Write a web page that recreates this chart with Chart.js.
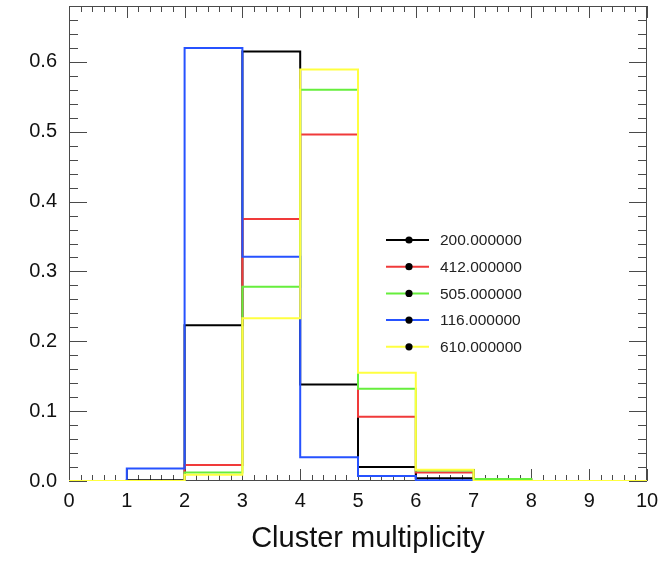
<!DOCTYPE html>
<html>
<head>
<meta charset="utf-8">
<script src="https://cdn.jsdelivr.net/npm/chart.js@4"></script>
<style>
  html, body { margin: 0; padding: 0; background: #ffffff; }
  #wrap { width: 666px; height: 562px; }
</style>
</head>
<body>
<div id="wrap"><canvas id="chart" width="666" height="562"></canvas></div>
<script>
// Bin lower edges of the cluster multiplicity histogram (unit-wide bins, 0..10)
const binEdges = [0, 1, 2, 3, 4, 5, 6, 7, 8, 9];
const xUpper = 10;

// Normalised fractions per bin for each run
const series200 = [0, 0.001, 0.223, 0.615, 0.138, 0.020, 0.004, 0, 0, 0];
const series412 = [0, 0, 0.023, 0.375, 0.496, 0.092, 0.012, 0.002, 0, 0];
const series505 = [0, 0, 0.012, 0.278, 0.560, 0.132, 0.015, 0.003, 0, 0];
const series116 = [0, 0.018, 0.620, 0.321, 0.034, 0.007, 0.001, 0, 0, 0];
const series610 = [0, 0, 0.009, 0.233, 0.589, 0.155, 0.016, 0, 0, 0];

const seriesNames = ['200.000000', '412.000000', '505.000000', '116.000000', '610.000000'];
const seriesColors = ['#000000', '#f03a3a', '#66ee3c', '#2652ff', '#ffff40'];

// Axis tick labels
const xTickValues = [0, 1, 2, 3, 4, 5, 6, 7, 8, 9, 10];
const yTickValues = [0.0, 0.1, 0.2, 0.3, 0.4, 0.5, 0.6];
const yMax = 0.68;
const xTitle = 'Cluster multiplicity';

const FONT = '"Liberation Sans", Arial, Helvetica, sans-serif';
const AXIS_COLOR = '#4a4a4a';

// Step histogram points: each value holds from its lower edge to the next edge
function histPoints(values) {
  const pts = binEdges.map((x, i) => ({ x: x, y: values[i] }));
  pts.push({ x: xUpper, y: values[values.length - 1] });
  return pts;
}

const allSeries = [series200, series412, series505, series116, series610];
const datasets = allSeries.map((vals, i) => ({
  label: seriesNames[i],
  data: histPoints(vals),
  borderColor: seriesColors[i],
  backgroundColor: seriesColors[i],
  borderWidth: 2,
  pointRadius: 0,
  stepped: 'before',
  fill: false,
  // later runs are painted on top of earlier ones
  order: allSeries.length - i
}));

// Frame with inward major/minor tick marks on all four sides
const framePlugin = {
  id: 'frameTicks',
  beforeDatasetsDraw(chart) {
    const { ctx, chartArea: a, scales: { x, y } } = chart;
    ctx.save();
    ctx.strokeStyle = AXIS_COLOR;
    ctx.lineWidth = 1;
    ctx.beginPath();
    ctx.rect(a.left + 0.5, a.top + 0.5, a.right - a.left - 1, a.bottom - a.top - 1);
    ctx.stroke();

    ctx.beginPath();
    // x axis ticks (bottom and top)
    for (let k = 0; k <= 50; k++) {
      const v = k * 0.2;
      const px = Math.round(x.getPixelForValue(v)) + 0.5;
      const len = (k % 5 === 0) ? 12 : 6;
      ctx.moveTo(px, a.bottom); ctx.lineTo(px, a.bottom - len);
      ctx.moveTo(px, a.top); ctx.lineTo(px, a.top + len);
    }
    // y axis ticks (left and right)
    for (let k = 0; k <= 34; k++) {
      const v = k * 0.02;
      const py = Math.round(y.getPixelForValue(v)) + 0.5;
      const len = (k % 5 === 0) ? 18 : 9;
      ctx.moveTo(a.left, py); ctx.lineTo(a.left + len, py);
      ctx.moveTo(a.right, py); ctx.lineTo(a.right - len, py);
    }
    ctx.stroke();
    ctx.restore();
  },
  afterDraw(chart) {
    const { ctx, chartArea: a } = chart;
    ctx.save();
    // x axis title
    ctx.fillStyle = '#111111';
    ctx.font = '29px ' + FONT;
    ctx.textAlign = 'center';
    ctx.textBaseline = 'alphabetic';
    ctx.fillText(xTitle, (a.left + a.right) / 2 + 10, 547);

    // legend: line with a dot marker, followed by the run label
    const lx = a.left + 317;
    const ly = a.top + 234;
    const rowGap = 26.7;
    ctx.font = '15.5px ' + FONT;
    ctx.textAlign = 'left';
    ctx.textBaseline = 'middle';
    chart.data.datasets.forEach((ds, i) => {
      const yy = ly + i * rowGap;
      ctx.strokeStyle = ds.borderColor;
      ctx.lineWidth = 2;
      ctx.beginPath();
      ctx.moveTo(lx, yy);
      ctx.lineTo(lx + 43, yy);
      ctx.stroke();
      ctx.fillStyle = '#000000';
      ctx.beginPath();
      ctx.arc(lx + 23, yy, 3.6, 0, Math.PI * 2);
      ctx.fill();
      ctx.fillStyle = '#222222';
      ctx.fillText(ds.label, lx + 54, yy + 1);
    });
    ctx.restore();
  }
};

new Chart(document.getElementById('chart'), {
  type: 'line',
  data: { datasets: datasets },
  options: {
    responsive: false,
    animation: false,
    devicePixelRatio: 1,
    layout: { padding: { left: 0, right: 19, top: 6, bottom: 0 } },
    plugins: {
      legend: { display: false },
      tooltip: { enabled: false },
      title: { display: false }
    },
    scales: {
      x: {
        type: 'linear',
        min: 0,
        max: xUpper,
        grid: { display: false, drawTicks: false },
        border: { display: false },
        afterBuildTicks(scale) { scale.ticks = xTickValues.map(v => ({ value: v })); },
        afterFit(scale) {
          scale.height = 81;
          scale.paddingLeft = 0;
          scale.paddingRight = 0;
        },
        ticks: {
          padding: 8,
          color: '#111111',
          font: { family: FONT, size: 20 },
          maxRotation: 0,
          autoSkip: false,
          callback: v => String(v)
        }
      },
      y: {
        type: 'linear',
        min: 0,
        max: yMax,
        grid: { display: false, drawTicks: false },
        border: { display: false },
        afterBuildTicks(scale) { scale.ticks = yTickValues.map(v => ({ value: v })); },
        afterFit(scale) {
          scale.width = 69;
          scale.paddingTop = 0;
          scale.paddingBottom = 0;
        },
        ticks: {
          padding: 12,
          color: '#111111',
          font: { family: FONT, size: 20 },
          autoSkip: false,
          callback: v => Number(v).toFixed(1)
        }
      }
    }
  },
  plugins: [framePlugin]
});
</script>
</body>
</html>
